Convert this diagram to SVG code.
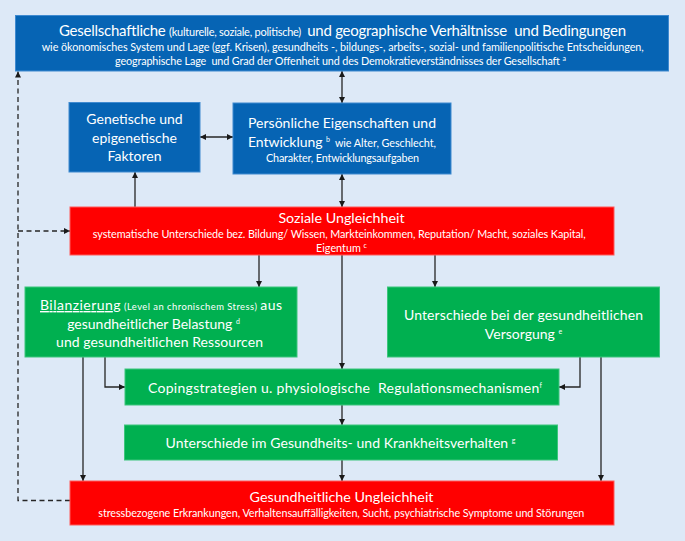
<svg xmlns="http://www.w3.org/2000/svg" width="685" height="541" viewBox="0 0 685 541">
<defs>
<style>
.bg{fill:#dde9f7}
.blue{fill:#0664b4;stroke:#3f8ad0;stroke-width:1}
.red{fill:#ff0000;stroke:#ff5a5a;stroke-width:1}
.green{fill:#00b050;stroke:#3cc57c;stroke-width:1}
text{font-family:Lato,"Open Sans","DejaVu Sans",sans-serif;fill:#ffffff;text-anchor:middle}
.big{font-size:15px}
.ttl{font-size:14.3px}
.mid{font-size:14px}
.sm{font-size:10.8px}
.xs{font-size:9.8px}
.sup{font-size:7px}
.con{fill:none;stroke:#262626;stroke-width:1.3}
.dash{fill:none;stroke:#262626;stroke-width:1.3;stroke-dasharray:5,3.5}
</style>
<marker id="ah" viewBox="0 0 10 10" refX="10" refY="5" markerWidth="7" markerHeight="6" markerUnits="userSpaceOnUse" orient="auto-start-reverse">
<path d="M0,0 L10,5 L0,10 z" fill="#1a1a1a"/>
</marker>
</defs>
<rect class="bg" x="0" y="0" width="685" height="541"/>

<g id="connectors">
<line class="con" x1="342" y1="71" x2="342" y2="103" marker-start="url(#ah)" marker-end="url(#ah)"/>
<line class="con" x1="200" y1="137" x2="233" y2="137" marker-start="url(#ah)" marker-end="url(#ah)"/>
<line class="con" x1="135" y1="207" x2="135" y2="172" marker-end="url(#ah)"/>
<line class="con" x1="342" y1="174" x2="342" y2="207" marker-start="url(#ah)" marker-end="url(#ah)"/>
<line class="con" x1="259" y1="255" x2="259" y2="287" marker-end="url(#ah)"/>
<line class="con" x1="435" y1="255" x2="435" y2="287" marker-end="url(#ah)"/>
<line class="con" x1="342" y1="255" x2="342" y2="369" marker-end="url(#ah)"/>
<path class="con" d="M105,357 V387 H125" marker-end="url(#ah)"/>
<path class="con" d="M580,357 V387 H559" marker-end="url(#ah)"/>
<line class="con" x1="83" y1="357" x2="83" y2="481" marker-end="url(#ah)"/>
<line class="con" x1="601" y1="357" x2="601" y2="481" marker-end="url(#ah)"/>
<line class="con" x1="342" y1="405" x2="342" y2="425" marker-end="url(#ah)"/>
<line class="con" x1="342" y1="460" x2="342" y2="481" marker-end="url(#ah)"/>
<path class="dash" d="M70,500.5 H18 V71.5" marker-end="url(#ah)"/>
<path class="dash" d="M18,231 H70" marker-end="url(#ah)"/>
</g>

<g id="gesellschaft">
<rect class="blue" x="15.5" y="15.5" width="653" height="55.5"/>
<text x="342.5" y="36" textLength="567" lengthAdjust="spacing" xml:space="preserve"><tspan class="big">Gesellschaftliche </tspan><tspan font-size="11px">(kulturelle, soziale, politische) </tspan><tspan class="big"> und geographische Verhältnisse  und Bedingungen</tspan></text>
<text class="sm" x="342.7" y="50.5" textLength="602" lengthAdjust="spacing">wie ökonomisches System und Lage (ggf. Krisen), gesundheits -, bildungs-, arbeits-, sozial- und familienpolitische Entscheidungen,</text>
<text class="sm" x="340.5" y="65" textLength="451" lengthAdjust="spacing" xml:space="preserve">geographische Lage  und Grad der Offenheit und des Demokratieverständnisses der Gesellschaft <tspan class="sup" dy="-4">a</tspan></text>
</g>

<g id="genetik">
<rect class="blue" x="69" y="102.5" width="131" height="69.5"/>
<text class="mid" x="134.5" y="124">Genetische und</text>
<text class="mid" x="134.5" y="142.5">epigenetische</text>
<text class="mid" x="134.5" y="161">Faktoren</text>
</g>

<g id="persoenlich">
<rect class="blue" x="233" y="103" width="218" height="71"/>
<text class="mid" x="342" y="128" textLength="188" lengthAdjust="spacing">Persönliche Eigenschaften und</text>
<text x="342" y="147" textLength="188" lengthAdjust="spacing" xml:space="preserve"><tspan class="mid">Entwicklung </tspan><tspan class="sup" font-size="8.5" dy="-5">b</tspan><tspan class="sm" dy="5">  wie Alter, Geschlecht,</tspan></text>
<text class="sm" x="342.5" y="162" textLength="153" lengthAdjust="spacing">Charakter, Entwicklungsaufgaben</text>
</g>

<g id="soziale">
<rect class="red" x="70" y="207" width="544" height="48"/>
<text class="ttl" x="341.5" y="223">Soziale Ungleichheit</text>
<text class="sm" x="339.3" y="238" textLength="493" lengthAdjust="spacing">systematische Unterschiede bez. Bildung/ Wissen, Markteinkommen, Reputation/ Macht, soziales Kapital,</text>
<text class="sm" x="341.5" y="251.5">Eigentum <tspan class="sup" dy="-4">c</tspan></text>
</g>

<g id="bilanzierung">
<rect class="green" x="25" y="287" width="272" height="70"/>
<text x="161" y="310" textLength="242" lengthAdjust="spacing"><tspan class="mid" text-decoration="underline">Bilanzierung</tspan><tspan font-size="9.4px"> (Level an chronischem Stress) </tspan><tspan class="mid">aus</tspan></text>
<text x="153.5" y="328.5"><tspan class="mid">gesundheitlicher Belastung </tspan><tspan class="sup" font-size="8" dy="-5">d</tspan></text>
<text class="mid" x="159.5" y="347" textLength="207" lengthAdjust="spacing">und gesundheitlichen Ressourcen</text>
</g>

<g id="versorgung">
<rect class="green" x="387.5" y="287" width="272" height="70"/>
<text class="mid" x="523.5" y="320" textLength="239" lengthAdjust="spacing">Unterschiede bei der gesundheitlichen</text>
<text x="523.5" y="338.5"><tspan class="mid">Versorgung </tspan><tspan class="sup" font-size="8" dy="-5">e</tspan></text>
</g>

<g id="coping">
<rect class="green" x="125" y="369" width="434" height="36"/>
<text x="345" y="393" textLength="394" lengthAdjust="spacing" xml:space="preserve"><tspan class="mid">Copingstrategien u. physiologische  Regulationsmechanismen</tspan><tspan class="sup" font-size="8" dy="-5">f</tspan></text>
</g>

<g id="verhalten">
<rect class="green" x="124.5" y="425" width="433" height="35"/>
<text x="340.5" y="448" textLength="350" lengthAdjust="spacing"><tspan class="mid">Unterschiede im Gesundheits- und Krankheitsverhalten </tspan><tspan class="sup" font-size="8" dy="-5">g</tspan></text>
</g>

<g id="gesundheit">
<rect class="red" x="70" y="481" width="544" height="44"/>
<text class="ttl" x="341.5" y="501.5">Gesundheitliche Ungleichheit</text>
<text class="sm" x="341.3" y="517" textLength="486" lengthAdjust="spacing">stressbezogene Erkrankungen, Verhaltensauffälligkeiten, Sucht, psychiatrische Symptome und Störungen</text>
</g>
</svg>
